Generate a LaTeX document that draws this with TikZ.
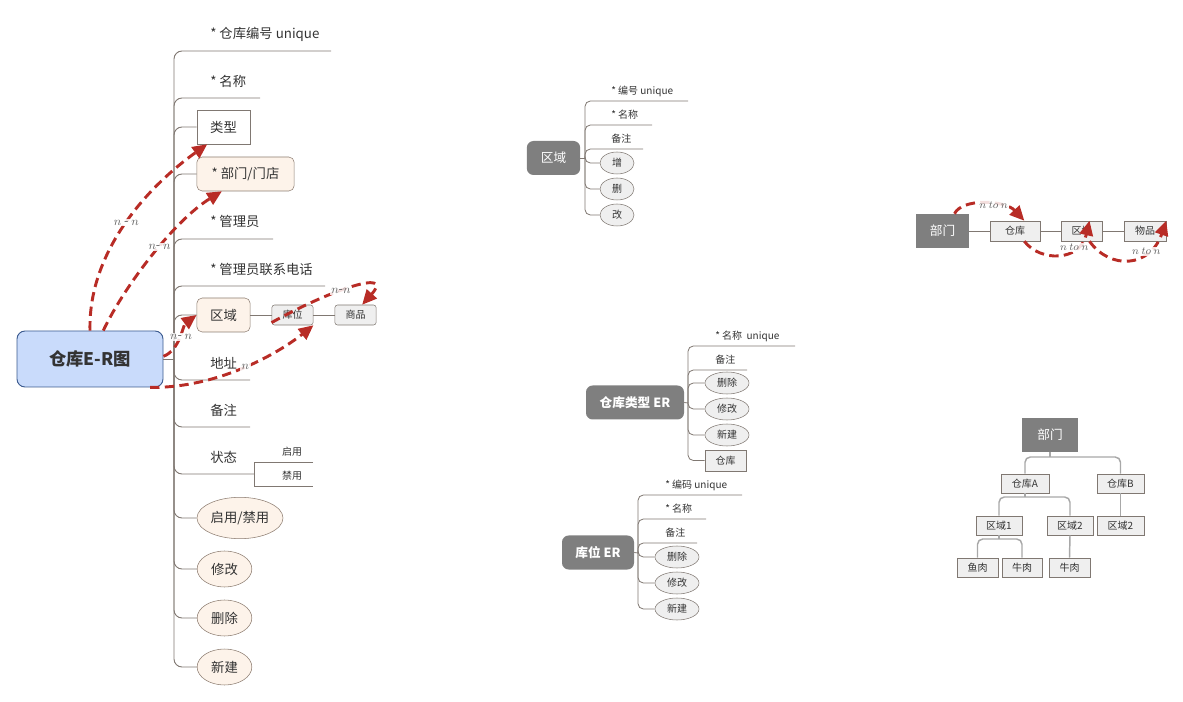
\documentclass[tikz,border=0pt]{standalone}
\usepackage{fontspec}
\setmainfont{Noto Sans CJK SC}
\usetikzlibrary{arrows.meta,shapes.geometric}
\definecolor{linegray}{RGB}{128,120,114}
\definecolor{txtgray}{RGB}{51,51,51}
\definecolor{peach}{RGB}{253,243,234}
\definecolor{peachline}{RGB}{140,124,112}
\definecolor{erblue}{RGB}{201,219,251}
\definecolor{erblueline}{RGB}{59,90,143}
\definecolor{ergray}{RGB}{127,127,127}
\definecolor{lightbox}{RGB}{239,239,239}
\definecolor{relred}{RGB}{184,44,38}
\definecolor{treegray}{RGB}{168,168,168}
\definecolor{labelgray}{RGB}{100,100,100}
\tikzset{
  branch/.style={draw=linegray, line width=0.7pt, rounded corners=6pt},
  twig/.style={draw=linegray, line width=0.6pt, rounded corners=4pt},
  attr/.style={anchor=west, inner sep=0pt, text=txtgray, font=\fontsize{10}{12}\selectfont},
  smallattr/.style={anchor=west, inner sep=0pt, text=txtgray, font=\fontsize{7.5}{9}\selectfont},
  mainnode/.style={draw=erblueline, fill=erblue, rounded corners=6pt, line width=0.7pt, minimum width=109.5pt, minimum height=42pt, inner sep=0pt, text=txtgray, font=\fontsize{13}{15}\selectfont\bfseries},
  peachbox/.style={draw=peachline, fill=peach, rounded corners=4pt, minimum height=25.5pt, inner sep=0pt, text=txtgray, font=\fontsize{10}{12}\selectfont},
  plainbox/.style={draw=linegray, fill=white, minimum width=40pt, minimum height=25.5pt, inner sep=0pt, text=txtgray, font=\fontsize{10}{12}\selectfont},
  peachell/.style={ellipse, draw=peachline, fill=peach, minimum width=41pt, minimum height=27pt, inner sep=0pt, text=txtgray, font=\fontsize{10}{12}\selectfont},
  greyell/.style={ellipse, draw=linegray, fill=lightbox, minimum width=33pt, minimum height=16.5pt, inner sep=0pt, text=txtgray, font=\fontsize{7.5}{9}\selectfont},
  greybox/.style={draw=linegray, fill=lightbox, minimum width=31pt, minimum height=15pt, inner sep=0pt, text=txtgray, font=\fontsize{7.5}{9}\selectfont},
  darknode/.style={fill=ergray, text=white, minimum height=25.5pt, inner sep=0pt, font=\fontsize{9.5}{11}\selectfont},
  rel/.style={draw=relred, line width=2.2pt, dash pattern=on 7pt off 4pt, -{Triangle[length=11pt,width=10pt]}},
  rellabel/.style={text=labelgray, fill=white, fill opacity=0.85, text opacity=1, inner sep=1pt, font=\fontsize{9.5}{11}\selectfont},
  treeline/.style={draw=treegray, line width=1.1pt, rounded corners=4pt},
  treebox/.style={draw=linegray, fill=lightbox, minimum height=14.5pt, inner sep=0pt, text=txtgray, font=\fontsize{7.5}{9}\selectfont},
}
\begin{document}
\begin{tikzpicture}[x=0.75pt,y=-0.75pt]
\useasboundingbox (0,0) rectangle (1183,702);

\node[mainnode] (wh) at (90,359) {仓库E-R图};
\coordinate (hub) at (174,359);
\draw[branch] (wh.east) -- (hub);
\draw[branch] (hub) |- (331,51);
\node[attr] (code) at (210,34) {* 仓库编号 unique};
\draw[branch] (hub) |- (260,98);
\node[attr] (name) at (210,81) {* 名称};
\node[plainbox] (type) at (223.5,127) {类型};
\draw[branch] (hub) |- (type.west);
\node[peachbox, minimum width=73pt] (dept) at (245.5,174) {* 部门/门店};
\draw[branch] (hub) |- (dept.west);
\draw[branch] (hub) |- (273,239);
\node[attr] (mgr) at (210,221) {* 管理员};
\draw[branch] (hub) |- (325,286);
\node[attr] (tel) at (210,269) {* 管理员联系电话};
\node[peachbox, minimum width=40pt] (zone) at (223.5,315) {区域};
\draw[branch] (hub) |- (zone.west);
\node[greybox, rounded corners=2pt] (slot) at (292.5,315) {库位};
\node[greybox, rounded corners=2pt] (goods) at (355.5,315) {商品};
\draw[branch] (zone.east) -- (slot.west);
\draw[branch] (slot.east) -- (goods.west);
\draw[branch] (hub) |- (250,380);
\node[attr] (addr) at (210,363) {地址};
\draw[branch] (hub) |- (250,427);
\node[attr] (note) at (210,410) {备注};
\draw[branch] (hub) |- (254,474);
\node[attr] (state) at (210,457) {状态};
\draw[draw=linegray, line width=0.6pt] (313,462) -- (254,462) -- (254,486) -- (313,486);
\node[text=txtgray, font=\fontsize{7.5}{9}\selectfont, inner sep=0pt] (on) at (292,452) {启用};
\node[text=txtgray, font=\fontsize{7.5}{9}\selectfont, inner sep=0pt] (off) at (292,476) {禁用};
\node[peachell, minimum width=64.5pt, minimum height=31pt] (toggle) at (240,518) {启用/禁用};
\draw[branch] (hub) |- (toggle.west);
\node[peachell] (edit) at (224.5,569) {修改};
\draw[branch] (hub) |- (edit.west);
\node[peachell] (del) at (224.5,618) {删除};
\draw[branch] (hub) |- (del.west);
\node[peachell] (new) at (224.5,667) {新建};
\draw[branch] (hub) |- (new.west);

\draw[rel] (wh.north) .. controls (88,250) and (150,185) .. ([xshift=8pt]type.south west) node[midway, rellabel] {$n$ - $n$};
\draw[rel] (wh.65) .. controls (125,285) and (175,220) .. ([xshift=19pt]dept.south west) node[pos=0.55, rellabel] {$n$- $n$};
\draw[rel] ([yshift=2pt]wh.east) .. controls (180,350) and (183,325) .. (zone.west) node[midway, rellabel] {$n$- $n$};
\draw[rel] ([xshift=-10pt]wh.south east) .. controls (220,388) and (280,352) .. (slot.south east) node[midway, rellabel] {$n$};
\draw[rel] ([yshift=2pt]slot.south west) .. controls (330,290) and (395,268) .. ([xshift=5pt]goods.north) node[pos=0.42, rellabel] {$n$-$n$};

\node[darknode, rounded corners=5pt, minimum width=40pt] (zr) at (553.5,158) {区域};
\coordinate (zhub) at (585,158);
\draw[twig] (zr.east) -- (zhub);
\draw[twig] (zhub) |- (688,101);
\node[smallattr] (zcode) at (611,91) {* 编号 unique};
\draw[twig] (zhub) |- (652,125);
\node[smallattr] (zname) at (611,115) {* 名称};
\draw[twig] (zhub) |- (643,149);
\node[smallattr] (znote) at (611,139) {备注};
\node[greyell, minimum width=25.5pt] (zadd) at (617,163) {增};
\draw[twig] (zhub) |- (zadd.west);
\node[greyell, minimum width=25.5pt] (zdel) at (617,189) {删};
\draw[twig] (zhub) |- (zdel.west);
\node[greyell, minimum width=25.5pt] (zedit) at (617,215) {改};
\draw[twig] (zhub) |- (zedit.west);

\node[darknode, rounded corners=5pt, minimum width=73.5pt, font=\fontsize{9.5}{11}\selectfont\bfseries] (wt) at (635,402.5) {仓库类型 ER};
\coordinate (thub) at (688,403);
\draw[twig] (wt.east) -- (thub);
\draw[twig] (thub) |- (795,346);
\node[smallattr] (tname) at (715,336) {* 名称\ \ unique};
\draw[twig] (thub) |- (747,370);
\node[smallattr] (tnote) at (715,360) {备注};
\node[greyell] (tdel) at (727,383) {删除};
\draw[twig] (thub) |- (tdel.west);
\node[greyell] (tedit) at (727,409) {修改};
\draw[twig] (thub) |- (tedit.west);
\node[greyell] (tnew) at (727,435) {新建};
\draw[twig] (thub) |- (tnew.west);
\node[greybox, minimum height=16pt] (twh) at (725.5,460.5) {仓库};
\draw[twig] (thub) |- (twh.west);

\node[darknode, rounded corners=5pt, minimum width=54pt, font=\fontsize{9.5}{11}\selectfont\bfseries] (ws) at (598,552.5) {库位 ER};
\coordinate (shub) at (638,553);
\draw[twig] (ws.east) -- (shub);
\draw[twig] (shub) |- (742,495);
\node[smallattr] (scode) at (665,485) {* 编码 unique};
\draw[twig] (shub) |- (706,519);
\node[smallattr] (sname) at (665,509) {* 名称};
\draw[twig] (shub) |- (697,543);
\node[smallattr] (snote) at (665,533) {备注};
\node[greyell] (sdel) at (677,557) {删除};
\draw[twig] (shub) |- (sdel.west);
\node[greyell] (sedit) at (677,583) {修改};
\draw[twig] (shub) |- (sedit.west);
\node[greyell] (snew) at (677,609) {新建};
\draw[twig] (shub) |- (snew.west);

\node[darknode, minimum width=40pt] (bm) at (942.5,231) {部门};
\node[greybox, minimum width=37.5pt] (ck) at (1015,231) {仓库};
\node[greybox] (zn) at (1081.5,231) {区域};
\node[greybox, minimum width=31.5pt] (wp) at (1145,231) {物品};
\draw[twig] (bm.east) -- (ck.west);
\draw[twig] (ck.east) -- (zn.west);
\draw[twig] (zn.east) -- (wp.west);
\draw[rel] ([xshift=9pt]bm.north) .. controls (962,198) and (1005,200) .. ([xshift=7pt]ck.north) node[pos=0.6, rellabel, font=\fontsize{8.5}{10}\selectfont] {$n~to~n$};
\draw[rel] ([xshift=7pt]ck.south) .. controls (1040,262) and (1080,262) .. ([xshift=6pt]zn.north) node[pos=0.7, rellabel, font=\fontsize{8.5}{10}\selectfont] {$n~to~n$};
\draw[rel] ([xshift=6pt]zn.south) .. controls (1110,270) and (1150,268) .. (wp.north east) node[pos=0.7, rellabel, font=\fontsize{8.5}{10}\selectfont] {$n~to~n$};

\node[darknode, minimum width=42pt] (td) at (1050,435) {部门};
\node[treebox, minimum width=36pt] (tA) at (1025,483.5) {仓库A};
\node[treebox, minimum width=35pt] (tB) at (1120.5,483.5) {仓库B};
\node[treebox, minimum width=34.5pt] (tz1) at (999,525.5) {区域1};
\node[treebox, minimum width=34.5pt] (tz2) at (1070,525.5) {区域2};
\node[treebox, minimum width=35pt] (tz3) at (1120.5,525.5) {区域2};
\node[treebox, minimum width=31pt] (tf1) at (977.5,567.5) {鱼肉};
\node[treebox, minimum width=30pt] (tf2) at (1022,567.5) {牛肉};
\node[treebox, minimum width=31pt] (tf3) at (1069.5,567.5) {牛肉};
\draw[treeline] (td.south) -- (1050,457);
\draw[treeline] (tA.north) |- (1085,457) -| (tB.north);
\draw[treeline] (tA.south) -- (1025,497);
\draw[treeline] (tz1.north) |- (1030,497) -| (tz2.north);
\draw[treeline] (tB.south) -- (tz3.north);
\draw[treeline] (tz1.south) -- (999,539);
\draw[treeline] (tf1.north) |- (1000,539) -| (tf2.north);
\draw[treeline] (tz2.south) -- (tf3.north);
\end{tikzpicture}
\end{document}
